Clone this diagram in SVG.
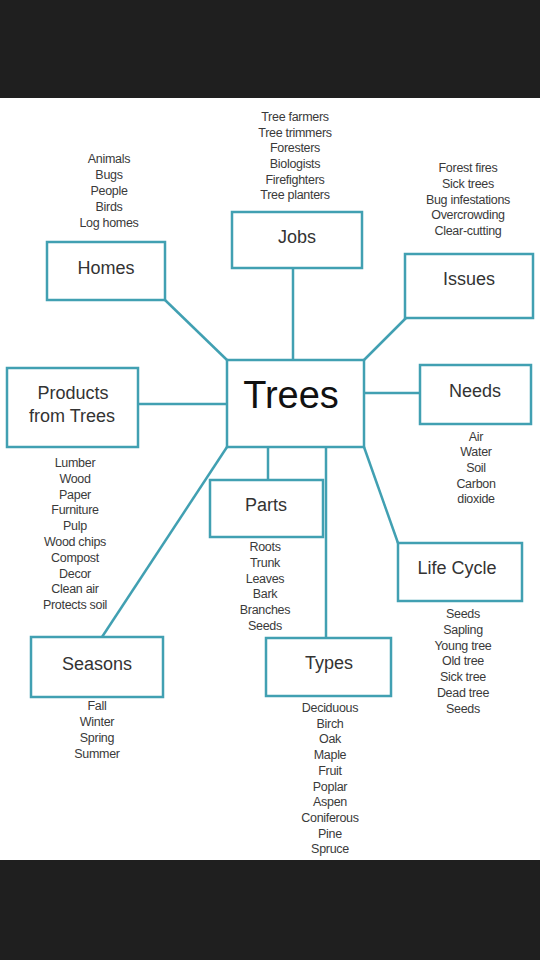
<svg xmlns="http://www.w3.org/2000/svg" width="540" height="960" viewBox="0 0 540 960">
<defs>
<style>
.box{fill:#ffffff;stroke:#41a0b2;stroke-width:2.5}
.conn line{stroke:#41a0b2;stroke-width:2.5;fill:none}
.lbl{font-family:"Liberation Sans",Arial,sans-serif;font-size:18px;fill:#333333;text-anchor:middle}
.main{font-family:"Liberation Sans",Arial,sans-serif;font-size:38px;fill:#111111;text-anchor:middle}
.lst{font-family:"Liberation Sans",Arial,sans-serif;font-size:12.5px;fill:#3a3a3a;text-anchor:middle;letter-spacing:-0.3px}
</style>
</defs>
<rect x="0" y="0" width="540" height="960" fill="#ffffff"/>
<rect x="0" y="0" width="540" height="98" fill="#1f1f1f"/>
<rect x="0" y="860" width="540" height="100" fill="#1f1f1f"/>

<g id="connectors" class="conn">
<line x1="165" y1="300" x2="227" y2="360"/>
<line x1="293" y1="268" x2="293" y2="360"/>
<line x1="406" y1="318" x2="364" y2="360"/>
<line x1="138" y1="404" x2="227" y2="404"/>
<line x1="364" y1="393" x2="420" y2="393"/>
<line x1="268" y1="447" x2="268" y2="480"/>
<line x1="326" y1="447" x2="326" y2="638"/>
<line x1="227" y1="447" x2="102" y2="637"/>
<line x1="364" y1="447" x2="398" y2="543"/>
</g>

<g id="trees">
<rect class="box" x="227" y="360" width="137" height="87"/>
<text class="main" x="291" y="408">Trees</text>
</g>

<g id="homes">
<rect class="box" x="47" y="242" width="118" height="58"/>
<text class="lbl" x="106" y="274">Homes</text>
<text class="lst" x="109" y="163">Animals</text>
<text class="lst" x="109" y="179">Bugs</text>
<text class="lst" x="109" y="195">People</text>
<text class="lst" x="109" y="211">Birds</text>
<text class="lst" x="109" y="227">Log homes</text>
</g>

<g id="jobs">
<rect class="box" x="232" y="212" width="130" height="56"/>
<text class="lbl" x="297" y="243">Jobs</text>
<text class="lst" x="295" y="121">Tree farmers</text>
<text class="lst" x="295" y="137">Tree trimmers</text>
<text class="lst" x="295" y="152">Foresters</text>
<text class="lst" x="295" y="168">Biologists</text>
<text class="lst" x="295" y="184">Firefighters</text>
<text class="lst" x="295" y="199">Tree planters</text>
</g>

<g id="issues">
<rect class="box" x="405" y="254" width="128" height="64"/>
<text class="lbl" x="469" y="285">Issues</text>
<text class="lst" x="468" y="172">Forest fires</text>
<text class="lst" x="468" y="188">Sick trees</text>
<text class="lst" x="468" y="204">Bug infestations</text>
<text class="lst" x="468" y="219">Overcrowding</text>
<text class="lst" x="468" y="235">Clear-cutting</text>
</g>

<g id="products">
<rect class="box" x="7" y="368" width="131" height="79"/>
<text class="lbl" x="73" y="399">Products</text>
<text class="lbl" x="72" y="422">from Trees</text>
<text class="lst" x="75" y="467">Lumber</text>
<text class="lst" x="75" y="483">Wood</text>
<text class="lst" x="75" y="499">Paper</text>
<text class="lst" x="75" y="514">Furniture</text>
<text class="lst" x="75" y="530">Pulp</text>
<text class="lst" x="75" y="546">Wood chips</text>
<text class="lst" x="75" y="562">Compost</text>
<text class="lst" x="75" y="578">Decor</text>
<text class="lst" x="75" y="593">Clean air</text>
<text class="lst" x="75" y="609">Protects soil</text>
</g>

<g id="needs">
<rect class="box" x="420" y="365" width="111" height="59"/>
<text class="lbl" x="475" y="397">Needs</text>
<text class="lst" x="476" y="441">Air</text>
<text class="lst" x="476" y="456">Water</text>
<text class="lst" x="476" y="472">Soil</text>
<text class="lst" x="476" y="488">Carbon</text>
<text class="lst" x="476" y="503">dioxide</text>
</g>

<g id="parts">
<rect class="box" x="210" y="480" width="113" height="57"/>
<text class="lbl" x="266" y="511">Parts</text>
<text class="lst" x="265" y="551">Roots</text>
<text class="lst" x="265" y="567">Trunk</text>
<text class="lst" x="265" y="583">Leaves</text>
<text class="lst" x="265" y="598">Bark</text>
<text class="lst" x="265" y="614">Branches</text>
<text class="lst" x="265" y="630">Seeds</text>
</g>

<g id="lifecycle">
<rect class="box" x="398" y="543" width="124" height="58"/>
<text class="lbl" x="457" y="574">Life Cycle</text>
<text class="lst" x="463" y="618">Seeds</text>
<text class="lst" x="463" y="634">Sapling</text>
<text class="lst" x="463" y="650">Young tree</text>
<text class="lst" x="463" y="665">Old tree</text>
<text class="lst" x="463" y="681">Sick tree</text>
<text class="lst" x="463" y="697">Dead tree</text>
<text class="lst" x="463" y="713">Seeds</text>
</g>

<g id="seasons">
<rect class="box" x="31" y="637" width="132" height="60"/>
<text class="lbl" x="97" y="670">Seasons</text>
<text class="lst" x="97" y="710">Fall</text>
<text class="lst" x="97" y="726">Winter</text>
<text class="lst" x="97" y="742">Spring</text>
<text class="lst" x="97" y="758">Summer</text>
</g>

<g id="types">
<rect class="box" x="266" y="638" width="125" height="58"/>
<text class="lbl" x="329" y="669">Types</text>
<text class="lst" x="330" y="712">Deciduous</text>
<text class="lst" x="330" y="728">Birch</text>
<text class="lst" x="330" y="743">Oak</text>
<text class="lst" x="330" y="759">Maple</text>
<text class="lst" x="330" y="775">Fruit</text>
<text class="lst" x="330" y="791">Poplar</text>
<text class="lst" x="330" y="806">Aspen</text>
<text class="lst" x="330" y="822">Coniferous</text>
<text class="lst" x="330" y="838">Pine</text>
<text class="lst" x="330" y="853">Spruce</text>
</g>
</svg>
